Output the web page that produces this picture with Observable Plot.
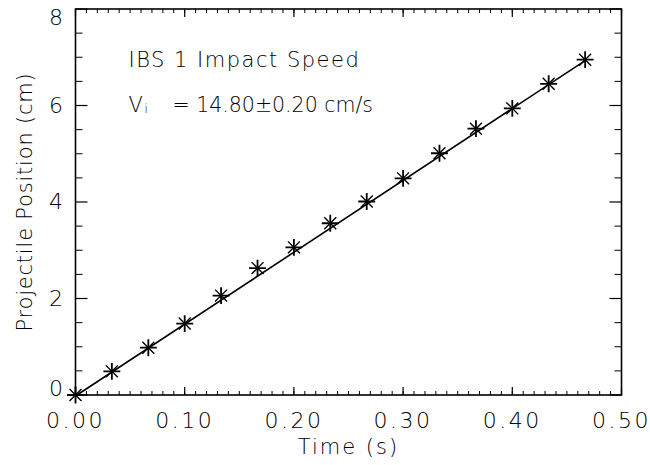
<!DOCTYPE html>
<html>
<head>
<meta charset="utf-8">
<script src="https://cdn.jsdelivr.net/npm/d3@7"></script>
<script src="https://cdn.jsdelivr.net/npm/@observablehq/plot@0.6"></script>
<style>
  html, body { margin: 0; padding: 0; background: #fff; }
  svg { font-family: "DejaVu Sans", sans-serif; font-weight: 200; }
  svg g[aria-label="x-axis tick label"], svg g[aria-label="y-axis tick label"] { letter-spacing: 2.5px; }
  svg g[aria-label="x-axis label"] { letter-spacing: 2px; }
  svg g[aria-label="y-axis label"] { letter-spacing: 0.8px; }
</style>
</head>
<body>
<div id="chart"></div>
<script>
// Measured data (time in s, position in cm)
const time = [0.0000, 0.0333, 0.0667, 0.1000, 0.1333, 0.1667, 0.2000, 0.2333, 0.2667, 0.3000, 0.3333, 0.3667, 0.4000, 0.4333, 0.4667];
const position = [0.00, 0.49, 0.98, 1.48, 2.06, 2.63, 3.06, 3.56, 4.01, 4.49, 5.01, 5.52, 5.94, 6.45, 6.95];

// Fitted line endpoints
const fitTime = [0.0000, 0.4667];
const fitPosition = [-0.02, 6.93];

// Axis ticks
const xMajor = [0.0, 0.1, 0.2, 0.3, 0.4, 0.5];
const xMinor = d3.range(0, 51).map(i => i / 100);
const yMajor = [0, 2, 4, 6, 8];
const yMinor = [0.5, 1, 1.5, 2.5, 3, 3.5, 4.5, 5, 5.5, 6.5, 7, 7.5];
const yLabelsMid = [2, 4, 6];
const yLabelTop = [8];
const yLabelBottom = [0];

const titleText = "IBS 1 Impact Speed";
const speedLabel = "V";
const speedSub = "i";
const speedText = "= 14.80±0.20 cm/s";

const points = time.map((t, i) => ({t, p: position[i]}));
const fit = fitTime.map((t, i) => ({t, p: fitPosition[i]}));

const textFont = {fontSize: 21, fontWeight: 200, fill: "#000"};
const tickFont = {fontSize: 22, fontWeight: 200, fill: "#000"};

// custom "tick" symbol: a short segment pointing inward from the frame edge
const seg = (dx, dy) => ({draw(ctx) { ctx.moveTo(0, 0); ctx.lineTo(dx, dy); }});
const tickDots = (data, channel, anchor, dx, dy, sw) =>
  Plot.dot(data, {[channel]: d => d, frameAnchor: anchor, symbol: seg(dx, dy), r: 1,
    fill: "none", stroke: "#000", strokeWidth: sw});

const chart = Plot.plot({
  width: 650,
  height: 465,
  marginLeft: 75,
  marginRight: 29,
  marginTop: 8.5,
  marginBottom: 70.5,
  style: {fontFamily: "DejaVu Sans, sans-serif", background: "#fff", color: "#000"},
  x: {domain: [0, 0.5]},
  y: {domain: [0, 8]},
  marks: [
    Plot.frame({stroke: "#000", fill: "none", strokeWidth: 1.6}),
    // inward ticks on all four sides
    tickDots(xMinor, "x", "bottom", 0, -4, 1),
    tickDots(xMinor, "x", "top", 0, 4, 1),
    tickDots(xMajor, "x", "bottom", 0, -8, 1.2),
    tickDots(xMajor, "x", "top", 0, 8, 1.2),
    tickDots(yMinor, "y", "left", 7, 0, 1),
    tickDots(yMinor, "y", "right", -7, 0, 1),
    tickDots(yMajor, "y", "left", 12, 0, 1.2),
    tickDots(yMajor, "y", "right", -12, 0, 1.2),
    // tick labels
    Plot.axisX(xMajor, {anchor: "bottom", tickSize: 0, tickPadding: 17, tickFormat: d3.format(".2f"),
      label: null, ...tickFont}),
    Plot.axisX({anchor: "bottom", ticks: [], label: "Time (s)", labelAnchor: "center", labelArrow: "none",
      labelOffset: 59, ...textFont}),
    Plot.axisY(yLabelsMid, {anchor: "left", tickSize: 0, tickPadding: 10, tickFormat: d3.format("d"), label: null, ...tickFont}),
    Plot.axisY(yLabelTop, {anchor: "left", tickSize: 0, tickPadding: 10, tickFormat: d3.format("d"), label: null, dy: 9, ...tickFont}),
    Plot.axisY(yLabelBottom, {anchor: "left", tickSize: 0, tickPadding: 10, tickFormat: d3.format("d"), label: null, dy: -6, ...tickFont}),
    Plot.axisY({anchor: "left", ticks: [], label: "Projectile Position (cm)", labelAnchor: "center", labelArrow: "none",
      labelOffset: 58, ...textFont}),
    // fit line
    Plot.line(fit, {x: "t", y: "p", stroke: "#000", strokeWidth: 1.6}),
    // asterisk markers
    Plot.dot(points, {x: "t", y: "p", symbol: "plus", r: 5.5, stroke: "#000", strokeWidth: 1.8}),
    Plot.dot(points, {x: "t", y: "p", symbol: "times", r: 5.5, stroke: "#000", strokeWidth: 1.4}),
    // annotations
    Plot.text([titleText], {frameAnchor: "top-left", dx: 53, dy: 43, text: d => d, textAnchor: "start", ...textFont}),
    Plot.text([speedLabel], {frameAnchor: "top-left", dx: 53, dy: 88, text: d => d, textAnchor: "start", ...textFont}),
    Plot.text([speedSub], {frameAnchor: "top-left", dx: 69, dy: 95, text: d => d, textAnchor: "start", fontSize: 12, fontWeight: 200, fill: "#000"}),
    Plot.text([speedText], {frameAnchor: "top-left", dx: 97, dy: 88, text: d => d, textAnchor: "start", ...textFont, fontSize: 20.5})
  ]
});
document.getElementById("chart").appendChild(chart);
// letter spacing for the title annotation
d3.select(chart).selectAll("text").filter(function() { return this.textContent === titleText; })
  .style("letter-spacing", "1.5px");
</script>
</body>
</html>
